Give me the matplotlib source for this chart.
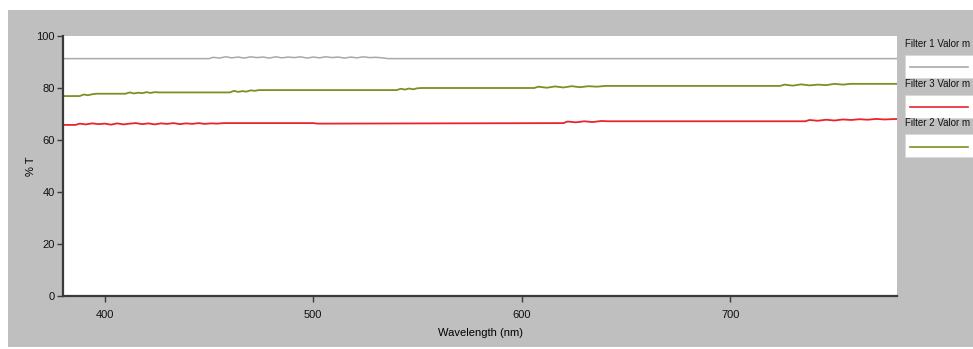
import matplotlib
matplotlib.use("Agg")
import matplotlib.pyplot as plt
from matplotlib.patches import Rectangle
from matplotlib.lines import Line2D
from matplotlib import font_manager

names = {f.name for f in font_manager.fontManager.ttflist}
fam = ['Liberation Sans Narrow', 'Liberation Sans', 'DejaVu Sans'] if 'Liberation Sans Narrow' in names else ['Liberation Sans', 'DejaVu Sans']
plt.rcParams['font.family'] = fam

# ---------------- data ----------------
f1_wl = [380, 450, 452, 455, 458, 461, 464, 467, 470, 473, 476, 479, 482, 485,
         488, 491, 494, 497, 500, 503, 506, 509, 512, 515, 518, 521, 524, 527,
         530, 533, 536, 780]
f1_val = [91.3, 91.3, 91.8, 91.5, 92.0, 91.6, 91.9, 91.5, 92.0, 91.7, 91.9, 91.5,
          92.0, 91.6, 91.9, 91.7, 92.0, 91.5, 91.9, 91.6, 92.0, 91.7, 91.9, 91.5,
          91.9, 91.6, 92.0, 91.7, 91.8, 91.6, 91.3, 91.3]

f2_wl = [380, 388, 390, 392, 394, 396, 410, 412, 414, 416, 418, 420, 422, 424, 426,
         460, 462, 464, 466, 468, 470, 472, 474, 540, 542, 544, 546, 548, 550, 552,
         606, 608, 612, 616, 620, 624, 628, 632, 636, 640, 724, 726, 730, 734, 738,
         742, 746, 750, 754, 758, 780]
f2_val = [76.9, 76.9, 77.5, 77.2, 77.6, 77.8, 77.8, 78.3, 77.9, 78.2, 78.0, 78.4,
          78.1, 78.4, 78.3, 78.3, 78.9, 78.5, 78.8, 78.6, 79.1, 78.9, 79.2, 79.2,
          79.7, 79.4, 79.8, 79.5, 79.9, 80.0, 80.0, 80.5, 80.1, 80.6, 80.2, 80.7,
          80.3, 80.7, 80.5, 80.8, 80.8, 81.3, 80.9, 81.4, 81.0, 81.3, 81.1, 81.6,
          81.3, 81.6, 81.6]

f3_wl = [380, 386, 388, 391, 394, 397, 400, 403, 406, 409, 412, 415, 418, 421, 424,
         427, 430, 433, 436, 439, 442, 445, 448, 451, 454, 457, 500, 502, 620, 622,
         626, 630, 634, 638, 642, 736, 738, 742, 746, 750, 754, 758, 762, 766, 770,
         774, 780]
f3_val = [65.8, 65.8, 66.3, 66.0, 66.4, 66.1, 66.3, 65.9, 66.4, 66.0, 66.3, 66.5,
          66.1, 66.4, 66.0, 66.4, 66.2, 66.5, 66.1, 66.4, 66.2, 66.5, 66.2, 66.4,
          66.3, 66.5, 66.5, 66.3, 66.5, 67.1, 66.8, 67.2, 66.9, 67.3, 67.2, 67.2,
          67.7, 67.4, 67.8, 67.5, 67.9, 67.7, 68.0, 67.8, 68.1, 67.9, 68.1]

x_ticks = [400, 500, 600, 700]
y_ticks = [0, 20, 40, 60, 80, 100]
legend_labels = ["Filter 1 Valor m", "Filter 3 Valor m", "Filter 2 Valor m"]

c1, c2, c3 = '#a9a9a9', '#7e8f22', '#e8242c'

# ---------------- figure ----------------
W, H = 973, 349
fig = plt.figure(figsize=(W / 100, H / 100), dpi=100)
fig.patch.set_facecolor('white')

def fx(px):
    return px / W

def fy(py):
    return 1 - py / H

# grey panel
fig.patches.append(Rectangle((fx(8), fy(347)), 1 - fx(8), fy(10) - fy(347),
                             transform=fig.transFigure, facecolor='#bfbfbf',
                             edgecolor='none', zorder=-5))

ax = fig.add_axes([fx(63), fy(296), fx(897) - fx(63), fy(36) - fy(296)])
ax.set_zorder(2)
ax.set_facecolor('white')
ax.plot(f1_wl, f1_val, color=c1, lw=1.1)
ax.plot(f2_wl, f2_val, color=c2, lw=1.3)
ax.plot(f3_wl, f3_val, color=c3, lw=1.3)
ax.set_xlim(380, 780)
ax.set_ylim(0, 100)
ax.set_xticks(x_ticks)
ax.set_yticks(y_ticks)
for s in ['top', 'right']:
    ax.spines[s].set_visible(False)
for s in ['left', 'bottom']:
    ax.spines[s].set_color('#3a3a3a')
    ax.spines[s].set_linewidth(1.6)
ax.tick_params(axis='both', colors='#3a3a3a', labelcolor='#111111', labelsize=8,
               width=1.0, length=4, direction='out', pad=2)
ax.tick_params(axis='x', pad=6)
ax.set_xlabel('Wavelength (nm)', fontsize=8, labelpad=6)
ax.set_ylabel('% T', fontsize=8, labelpad=0)

# legend drawn on the grey panel
entries = [(44, 55, 78, 67, c1), (84, 95, 118, 107, c3), (123, 134, 157, 147, c2)]
for lab, (ty, b0, b1, ly, col) in zip(legend_labels, entries):
    fig.text(fx(905), fy(ty), lab, fontsize=7, va='center', ha='left', zorder=3,
             color='#111111')
    fig.patches.append(Rectangle((fx(905), fy(b1)), 1 - fx(905), fy(b0) - fy(b1),
                                 transform=fig.transFigure, facecolor='white',
                                 edgecolor='#d8d8d8', lw=0.6, zorder=1))
    fig.lines.append(Line2D([fx(910), fx(968)], [fy(ly), fy(ly)],
                            transform=fig.transFigure, color=col, lw=1.2, zorder=2))

fig.savefig('out.png', dpi=100, facecolor=fig.get_facecolor())
